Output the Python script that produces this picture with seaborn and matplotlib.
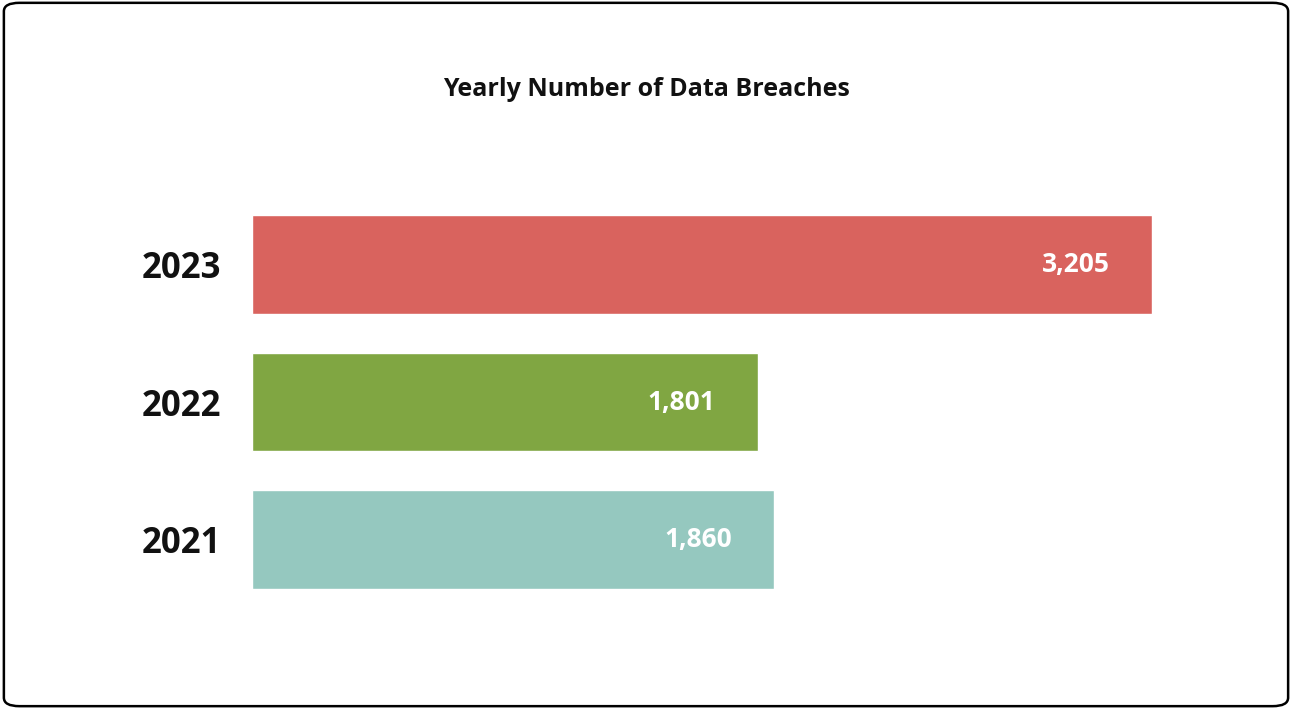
import matplotlib
matplotlib.use("Agg")
import matplotlib.pyplot as plt
import seaborn as sns
import pandas as pd
from matplotlib.patches import FancyBboxPatch

years = ["2023", "2022", "2021"]
breaches = [3205, 1801, 1860]
colors = ["#D9635E", "#80A642", "#95C8BF"]

df = pd.DataFrame({"year": years, "breaches": breaches})

sns.set_style("white")
plt.rcParams['font.family'] = ['Open Sans', 'DejaVu Sans']

fig = plt.figure(figsize=(12.92, 7.09), dpi=100)
border = FancyBboxPatch((0.003, 0.004), 0.994, 0.992, boxstyle="round,pad=0,rounding_size=0.012",
                        transform=fig.transFigure, fill=False, edgecolor="black", linewidth=1.8)
fig.patches.append(border)

ax = fig.add_axes([252/1292, 1-589/709, 900/1292, 374/709])
sns.barplot(data=df, x="breaches", y="year", hue="year", palette=colors, order=years,
            width=0.717, legend=False, ax=ax, saturation=1)
ax.set_xlim(0, 3205)
ax.set_ylim(2 + 0.3585, -0.3585)
for s in ax.spines.values():
    s.set_visible(False)
ax.set_xticks([])
ax.set_xlabel("")
ax.set_ylabel("")
ax.tick_params(axis="y", length=0, pad=22)
for lbl in ax.get_yticklabels():
    lbl.set_fontsize(25)
    lbl.set_fontweight("bold")
    lbl.set_color("#111111")

for i, v in enumerate(breaches):
    ax.text(v - 150, i, f"{v:,}", ha="right", va="center", color="white",
            fontsize=19, fontweight="bold")

fig.text(646/1292, 1-89/709, "Yearly Number of Data Breaches", ha="center", va="center",
         fontsize=18, fontweight="bold", color="#111111")

fig.savefig("out.png", dpi=100)
